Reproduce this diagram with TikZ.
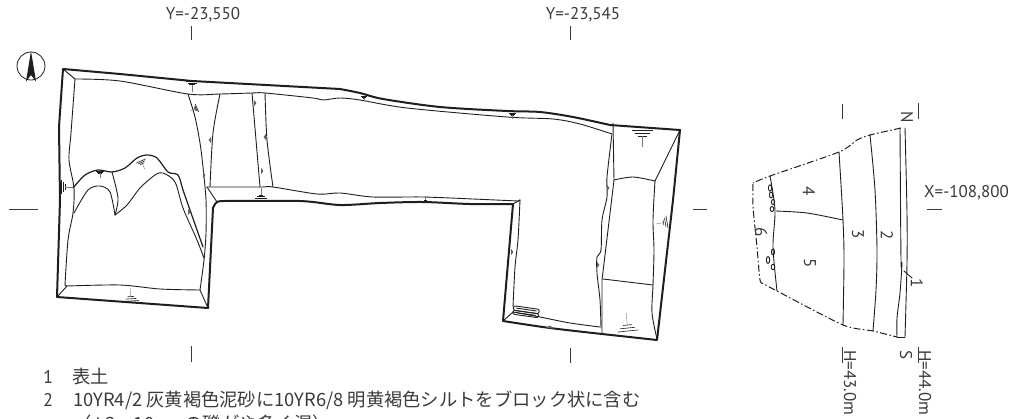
\documentclass[tikz,border=0pt]{standalone}
\usepackage{fontspec}
\setmainfont{PT Sans}
\newfontfamily\cjk{Noto Sans CJK JP}
\definecolor{ink}{HTML}{1E1E1E}
\definecolor{txt}{HTML}{3A3A3A}
\tikzset{
  thick line/.style={draw=ink,line width=2pt,line join=round,line cap=round},
  thin line/.style={draw=ink,line width=0.9pt,line join=round,line cap=round},
  tick/.style={draw=txt,line width=0.8pt},
  dashdot/.style={draw=ink,line width=1pt,dash pattern=on 7pt off 2.5pt on 1.5pt off 2.5pt},
  label/.style={inner sep=0pt,text=txt,font=\fontsize{17}{17}\selectfont},
  rotlabel/.style={label,rotate=-90},
  legend/.style={inner sep=0pt,anchor=base west,text=txt,font=\fontsize{18.3}{18.3}\selectfont},
  blob/.style={fill=ink!70,draw=none}
}
\newcommand{\slopemark}[4]{% x y angle scale
  \begin{scope}[shift={(#1,#2)},rotate=#3,scale=#4]
    \draw[ink,line width=0.6pt] (-7,0)--(7,0) (-5,2)--(5,2) (-3,4)--(3,4);
    \draw[ink!60,line width=0.4pt] (0,4)--(0,12);
  \end{scope}}
\newcommand{\tri}[3]{% x y angle
  \fill[blob,shift={(#1,#2)},rotate=#3] (0,-3.2)--(2.4,0)--(0,3.2)--cycle;}
\begin{document}
\begin{tikzpicture}[x=1pt,y=-1pt]
\useasboundingbox (0,0) rectangle (1012,418);
\clip (0,0) rectangle (1012,418);
% north symbol
\node[draw=ink,circle,minimum size=28pt,inner sep=0pt,line width=0.8pt] (north) at (31,66) {};
\fill[ink] (31,51) -- (36,81.5) -- (31,75) -- (26,81.5) -- cycle;
% plan: outer line
\draw[thick line] (63,69) -- (120,74) -- (192,81) -- (340,89)
  plot[smooth,tension=0.5] coordinates {(340,89) (360,93) (383,99) (440,107) (507,111) (540,112) (573,117) (610,125)}
  (610,125) -- (680,130) -- (673,200) -- (657,340) -- (602,334)
  plot[smooth,tension=0.5] coordinates {(602,334) (550,328) (503,321)}
  (503,321) -- (513,204)
  plot[smooth,tension=0.5] coordinates {(513,204) (470,204) (423,202) (380,203) (340,205) (300,201) (225,201)}
  plot[smooth,tension=0.6] coordinates {(225,201) (217,202) (213,208)}
  (213,208) -- (208,308) -- (57,297) -- (60,200) -- (59,127) -- (63,69);
% plan: inner lines
\draw[thin line] (63,69) -- (75,79)
  plot[smooth,tension=0.5] coordinates {(75,79) (120,81) (188,94) (220,94) (252,93) (265,93) (313,98) (323,100) (340,98) (360,100) (407,108) (507,117) (553,119) (580,124) (612,134)};
\draw[thin line] plot[smooth,tension=0.5] coordinates {(75,79) (71,133) (69,160) (74,188) (73,213) (68,240) (65,285)};
\draw[thin line] (65,285) -- (67,286) -- (57,297);
\draw[thin line] plot[smooth,tension=0.5] coordinates {(67,286) (120,285) (160,289) (200,290)};
\draw[thin line] (200,290) -- (208,308);
\draw[thin line] plot[smooth,tension=0.5] coordinates {(188,94) (195,117) (200,143) (203,167) (206,200) (206,233) (204,260) (200,290)};
\draw[thin line] plot[smooth,tension=0.5] coordinates {(220,94) (213,133) (210,187)};
\draw[thin line] (252,93) -- (256,140) -- (260,187);
\draw[thin line] plot[smooth,tension=0.5] coordinates {(265,93) (267,140) (273,187)};
\draw[thin line] plot[smooth,tension=0.5] coordinates {(207,187) (260,187) (273,187) (317,194) (340,193) (373,197) (423,197) (473,199) (518,201)};
\draw[thin line] (207,187) -- (217,202);
\draw[thin line] (518,201) -- (520,200);
\draw[thin line] (513,204) -- (520,200);
\draw[thin line] plot[smooth,tension=0.5] coordinates {(520,200) (518,240) (515,267) (513,307)};
\draw[thin line] (503,321) -- (513,312);
\draw[thin line] plot[smooth,tension=0.5] coordinates {(513,312) (540,317) (570,323) (600,327)};
% plan: right part
\draw[thin line] (613,123) -- (614,180) -- (602,280) -- (602,334);
\draw[thin line] plot[smooth,tension=0.5] coordinates {(612,134) (607,177) (607,197) (602,220) (601,250) (597,257) (597,273) (600,300) (601,328)};
\draw[thin line] plot[smooth,tension=0.5] coordinates {(614,180) (633,177) (655,181)};
\draw[thin line] (655,181) -- (680,130);
\draw[thin line] plot[smooth,tension=0.5] coordinates {(655,181) (653,220) (654,250) (653,285) (652,313) (657,339)};
\draw[thin line] (603,279) -- (653,285);
% plan: rubble
\begin{scope}[shift={(526,312)},rotate=-8]
  \draw[thin line,rounded corners=2pt] (-13,-4.5) rectangle (13,0);
  \draw[thin line,rounded corners=2pt] (-13,0) rectangle (13,4);
  \draw[thin line] (-10,-2.5)--(10,-2.5) (-10,2)--(10,2);
\end{scope}
% plan: hills
\draw[thin line,line width=1.2pt] plot[smooth,tension=0.5] coordinates {(73,188) (85,175) (98,170) (112,172) (125,168) (137,158) (147,155) (157,158) (168,172) (178,175) (183,190) (190,210) (203,247)};
\draw[thin line] plot[smooth,tension=0.5] coordinates {(74,213) (88,190) (100,186) (110,192) (115,215)};
\draw[thin line] plot[smooth,tension=0.5] coordinates {(115,215) (127,205) (140,188) (155,175) (163,173) (175,182) (183,208) (197,240) (204,258)};
\draw[thin line] plot[smooth,tension=0.5] coordinates {(112,172) (118,198) (115,215)};
% plan: slope marks
\slopemark{192}{81}{0}{0.9}
\slopemark{61}{187}{90}{1}
\slopemark{100}{171}{0}{0.6}
\slopemark{141}{161}{25}{0.75}
\slopemark{197}{108}{-65}{0.6}
\slopemark{261}{198}{180}{0.8}
\slopemark{364}{96}{0}{0.45}
\slopemark{512}{113}{0}{0.5}
\slopemark{425}{202}{180}{0.5}
\slopemark{642.5}{130}{0}{1.45}
\slopemark{667}{222}{-80}{0.9}
\slopemark{628}{331}{186}{1.5}
\slopemark{131}{301}{184}{1.1}
\tri{211}{140}{180}
\tri{203}{175}{0}
\tri{254}{103}{0}
\tri{266}{137}{180}
\tri{261}{171}{0}
\tri{511}{252}{0}
\tri{607}{188}{0}
\tri{597}{265}{0}
\tri{188}{212}{0}
\fill[blob] (546,328) -- (550,325.5) -- (554,328.5) -- cycle;
% grid ticks
\draw[tick] (191,26) -- (191,40) (570,26) -- (570,40) (191,346) -- (191,362) (570,348) -- (570,363)
  (9,209) -- (38,209) (693,209) -- (707,209) (927,209) -- (942,209)
  (842,104) -- (842,119) (918,103) -- (918,119) (842,347) -- (842,363) (918,347) -- (918,363);
% section
\draw[dashdot] plot[smooth,tension=0.4] coordinates {(901,128) (870,135) (857,140) (839,152) (770,176) (753,183)};
\draw[dashdot] plot[smooth,tension=0.4] coordinates {(753,184) (753,207) (757,247) (760,280) (764,284) (777,291) (843,325) (873,331) (897,337)};
\draw[thin line] plot[smooth,tension=0.5] coordinates {(905,128) (907,213) (907,263) (905,337)};
\draw[thin line] (905,337) -- (897,337);
\draw[thin line] plot[smooth,tension=0.5] coordinates {(900,128) (901,260) (902,263) (900,293) (897,318) (897,337)};
\draw[thin line] plot[smooth,tension=0.5] coordinates {(870,135) (875,190) (877,250) (876,290) (873,331)};
\draw[thin line] plot[smooth,tension=0.5] coordinates {(839,152) (843,220) (844,260) (843,325)};
\draw[thin line] plot[smooth,tension=0.5] coordinates {(776,211) (807,213) (843,220)};
\draw[thin line] plot[smooth,tension=0.5] coordinates {(770,176) (775,210) (773,247) (777,291)};
\draw[thin line] (904,271) -- (912,278);
\foreach \sx/\sy/\srx/\sry in {770/188/1.6/3.2,771/195/1.6/3,773/202/1.6/2.6,772/209/1.8/2.6,773/252/1.6/3,768/260/1.7/3.5,773/267/1.8/2.8}
  \draw[thin line] (\sx,\sy) ellipse ({\srx} and {\sry});
% texts
\node[label] (y1) at (203,15) {Y=-23,550};
\node[label] (y2) at (583,15) {Y=-23,545};
\node[label,anchor=east] (x1) at (1009,193) {X=-108,800};
\node[rotlabel] (n) at (907,117) {N};
\node[rotlabel] (s) at (906,355) {S};
\node[rotlabel] (s1) at (917,283) {1};
\node[rotlabel] (s2) at (887,235) {2};
\node[rotlabel] (s3) at (858,234) {3};
\node[rotlabel] (s4) at (809,191) {4};
\node[rotlabel] (s5) at (810,263) {5};
\node[rotlabel] (s6) at (761,232) {6};
\node[rotlabel,anchor=west] (h43) at (850,350) {H=43.0m};
\node[rotlabel,anchor=west] (h44) at (925,350) {H=44.0m};
\node[legend] (l1n) at (43,383) {1};
\node[legend] (l1) at (72,383) {\cjk 表土};
\node[legend] (l2n) at (43,406) {2};
\node[legend] (l2) at (73,406) {\cjk 10YR4/2 灰黄褐色泥砂に10YR6/8 明黄褐色シルトをブロック状に含む};
\node[legend] (l3) at (73,430) {\cjk （φ3～10cm の礫がや多く混）};
\end{tikzpicture}
\end{document}
